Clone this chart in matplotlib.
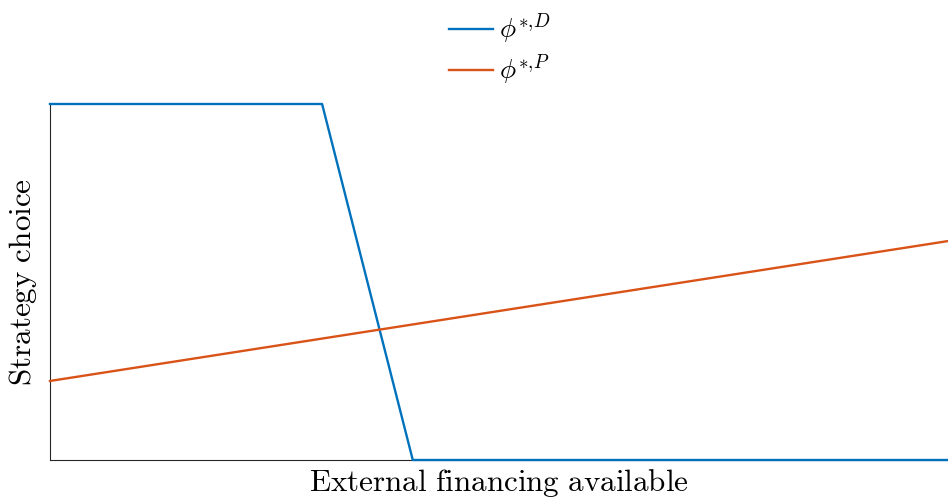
import matplotlib.pyplot as plt

plt.rcParams['mathtext.fontset'] = 'cm'
plt.rcParams['font.family'] = 'serif'
plt.rcParams['font.serif'] = ['DejaVu Serif']

# external financing (normalised) and strategy choice for each party
x_D = [0.0, 0.303, 0.404, 1.0]
phi_D = [1.0, 1.0, 0.0, 0.0]
x_P = [0.0, 1.0]
phi_P = [0.222, 0.615]

labels = [r'$\phi^{*,\!D}$', r'$\phi^{*,\!P}$']
colors = ['#0072BD', '#D95319']

fig = plt.figure(figsize=(9.48, 4.98), dpi=100)
ax = fig.add_axes([50 / 948, 38 / 498, 898 / 948, 356 / 498])

ax.plot(x_D, phi_D, color=colors[0], lw=1.7, label=labels[0], clip_on=False, zorder=3)
ax.plot(x_P, phi_P, color=colors[1], lw=1.7, label=labels[1], clip_on=False, zorder=3)

ax.set_xlim(0, 1)
ax.set_ylim(0, 1)
ax.set_xticks([])
ax.set_yticks([])
for side in ['top', 'right']:
    ax.spines[side].set_visible(False)
for side in ['left', 'bottom']:
    ax.spines[side].set_color('#262626')
    ax.spines[side].set_linewidth(0.8)

ax.set_xlabel(r'$\mathrm{External\ financing\ available}$', fontsize=22.4, labelpad=5)
ax.set_ylabel(r'$\mathrm{Strategy\ choice}$', fontsize=22.4, labelpad=8)

fig.legend(loc='upper left', bbox_to_anchor=(425 / 948, 1.024), frameon=False,
           fontsize=19.5, handlelength=1.6, labelspacing=0.23, handletextpad=0.22)

fig.savefig('out.png', dpi=100)
